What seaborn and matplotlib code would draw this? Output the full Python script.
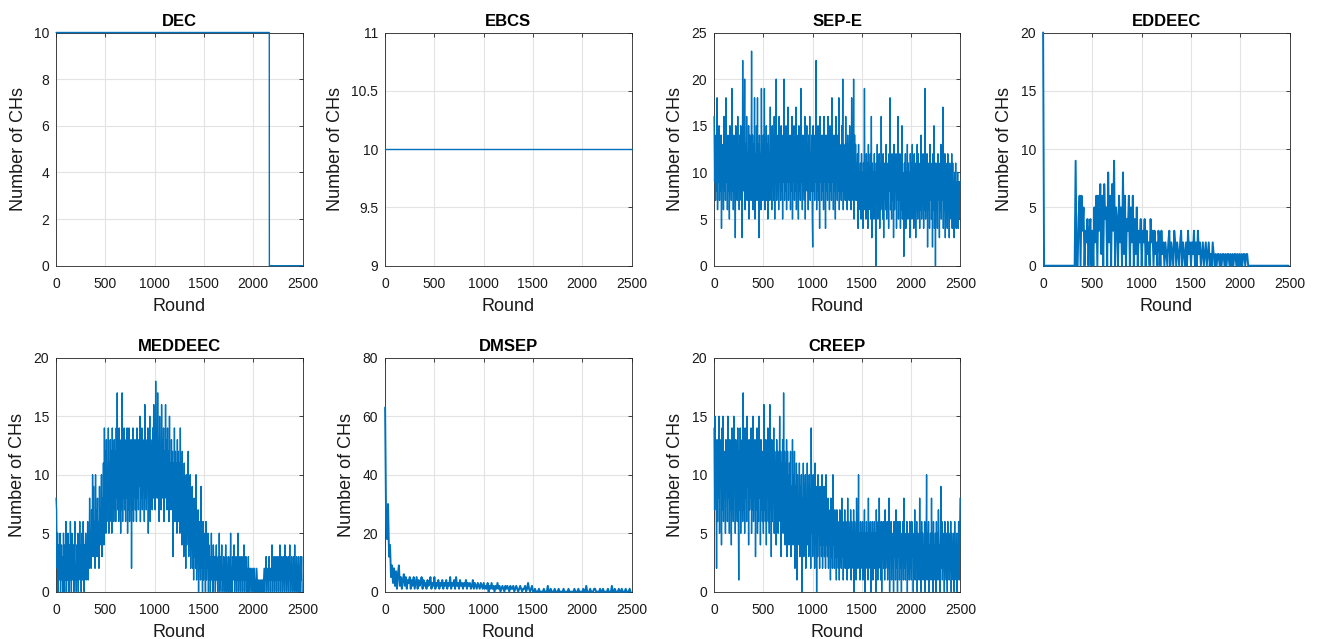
import numpy as np
import pandas as pd
import matplotlib
matplotlib.use("Agg")
import matplotlib.pyplot as plt
import seaborn as sns

# ---------------- data ----------------
titles = ["DEC", "EBCS", "SEP-E", "EDDEEC", "MEDDEEC", "DMSEP", "CREEP"]

dec_rounds = [1, 2163, 2164, 2500]
dec_values = [10, 10, 0, 0]

ebcs_rounds = [1, 2500]
ebcs_values = [10, 10]

# one sample every 5 rounds
sep_e = [
    16, 9, 14, 7, 13, 8, 18, 6, 12, 9, 15, 7, 11, 8, 14, 4, 13, 9, 12, 6, 16, 8, 13, 7, 18,
    9, 12, 6, 14, 8, 13, 5, 15, 9, 12, 7, 19, 8, 13, 6, 14, 9, 12, 3, 15, 8, 13, 7, 16, 9,
    12, 6, 14, 8, 15, 7, 13, 3, 22, 8, 14, 9, 20, 6, 13, 8, 16, 7, 12, 9, 15, 5, 14, 8, 13,
    7, 23, 9, 14, 6, 13, 8, 18, 5, 12, 9, 15, 7, 18, 8, 13, 3, 14, 9, 12, 6, 19, 8, 13, 7,
    14, 9, 19, 6, 12, 8, 15, 7, 13, 5, 14, 9, 12, 7, 17, 8, 13, 6, 15, 9, 12, 7, 16, 5, 13,
    9, 20, 7, 13, 8, 14, 6, 16, 9, 12, 7, 15, 8, 13, 5, 14, 9, 20, 7, 12, 8, 15, 6, 13, 9,
    17, 7, 12, 9, 14, 6, 13, 8, 16, 5, 12, 9, 15, 7, 13, 8, 17, 6, 14, 9, 12, 5, 15, 8, 13,
    7, 19, 9, 12, 6, 14, 8, 13, 7, 16, 5, 12, 9, 15, 8, 13, 6, 14, 9, 16, 7, 12, 8, 14, 6,
    2, 15, 8, 13, 7, 14, 9, 22, 6, 12, 8, 15, 7, 13, 4, 16, 9, 12, 7, 14, 8, 13, 6, 16, 9,
    12, 4, 14, 8, 13, 7, 16, 9, 12, 6, 15, 8, 13, 7, 18, 9, 12, 6, 14, 8, 13, 5, 16, 9, 12,
    7, 14, 8, 18, 6, 13, 9, 12, 7, 15, 8, 20, 6, 13, 9, 12, 7, 16, 8, 13, 6, 14, 9, 12, 7,
    15, 8, 13, 6, 18, 9, 12, 7, 20, 5, 14, 8, 13, 7, 11, 9, 12, 4, 13, 6, 10, 8, 11, 5, 12,
    7, 10, 4, 11, 8, 19, 6, 10, 5, 12, 7, 11, 4, 13, 6, 10, 8, 12, 5, 16, 3, 11, 7, 10, 5,
    12, 6, 10, 0, 11, 7, 13, 5, 10, 8, 12, 4, 11, 6, 16, 7, 10, 5, 12, 3, 11, 8, 10, 6, 13,
    5, 11, 7, 10, 4, 12, 8, 18, 6, 10, 5, 12, 7, 11, 3, 13, 6, 10, 8, 12, 4, 11, 7, 16, 5,
    10, 7, 12, 4, 11, 6, 15, 5, 10, 8, 1, 11, 6, 12, 4, 10, 7, 13, 5, 11, 6, 10, 3, 12, 7,
    11, 5, 13, 6, 10, 4, 12, 7, 11, 3, 10, 6, 13, 5, 12, 7, 10, 4, 11, 6, 14, 5, 10, 7, 12,
    4, 11, 6, 19, 5, 10, 7, 12, 2, 11, 6, 10, 4, 13, 7, 11, 5, 10, 2, 12, 6, 15, 4, 11, 0,
    11, 6, 10, 4, 12, 7, 11, 3, 10, 6, 13, 5, 11, 7, 17, 4, 10, 6, 12, 3, 11, 7, 10, 4, 12,
    6, 10, 3, 11, 7, 10, 5, 12, 4, 11, 6, 9, 3, 10, 7, 11, 4, 9, 6, 10, 4, 9, 5, 9, 9,
]

meddeec = [
    8, 7, 2, 5, 0, 4, 1, 3, 5, 0, 2, 4, 1, 3, 0, 5, 2, 0, 4, 1, 6, 0, 3, 1, 5,
    2, 0, 4, 1, 6, 3, 0, 5, 2, 1, 4, 0, 3, 6, 1, 2, 0, 4, 1, 5, 0, 3, 2, 6, 1,
    4, 0, 5, 2, 1, 6, 3, 0, 4, 2, 5, 1, 3, 2, 6, 1, 4, 2, 8, 3, 5, 2, 7, 3, 10,
    4, 9, 3, 6, 2, 10, 3, 7, 4, 8, 3, 6, 2, 9, 4, 7, 5, 10, 3, 8, 5, 11, 4, 14, 6,
    12, 5, 13, 6, 10, 7, 14, 5, 11, 6, 13, 7, 12, 5, 14, 8, 11, 6, 13, 7, 12, 6, 14, 8, 17,
    7, 12, 6, 14, 8, 11, 5, 13, 7, 17, 6, 12, 8, 14, 7, 11, 6, 13, 8, 14, 5, 12, 7, 14, 6,
    11, 8, 13, 2, 12, 7, 14, 6, 11, 8, 13, 7, 12, 6, 14, 8, 11, 7, 13, 9, 15, 6, 12, 8, 14,
    7, 13, 9, 12, 6, 16, 8, 13, 7, 11, 9, 14, 5, 12, 8, 15, 6, 13, 9, 12, 7, 14, 8, 16, 9,
    13, 7, 18, 9, 12, 8, 17, 10, 13, 6, 15, 9, 12, 7, 16, 8, 13, 10, 14, 6, 12, 9, 16, 8, 13,
    7, 14, 9, 12, 6, 15, 8, 11, 7, 13, 9, 12, 3, 11, 7, 14, 6, 12, 8, 11, 5, 13, 7, 12, 6,
    11, 5, 14, 7, 10, 4, 12, 6, 9, 3, 11, 5, 8, 2, 10, 4, 9, 6, 12, 3, 8, 5, 10, 2, 7,
    4, 9, 2, 6, 1, 8, 3, 7, 2, 10, 1, 5, 3, 7, 0, 6, 2, 5, 1, 9, 2, 4, 0, 6, 1,
    5, 2, 4, 0, 6, 1, 3, 2, 5, 0, 4, 1, 3, 0, 2, 5, 1, 3, 0, 4, 2, 1, 3, 0, 2,
    4, 1, 2, 0, 3, 1, 5, 0, 2, 3, 1, 4, 0, 2, 1, 3, 0, 2, 1, 4, 0, 3, 1, 2, 0,
    3, 1, 2, 0, 5, 1, 2, 0, 3, 1, 2, 4, 0, 2, 1, 3, 0, 2, 1, 5, 0, 2, 1, 3, 0,
    2, 1, 3, 0, 2, 1, 4, 0, 2, 1, 3, 0, 2, 0, 1, 3, 0, 2, 1, 2, 0, 1, 2, 0, 1,
    2, 0, 1, 2, 0, 1, 0, 2, 1, 0, 1, 0, 1, 0, 0, 1, 0, 1, 0, 1, 0, 1, 2, 0, 2,
    1, 3, 0, 2, 1, 2, 0, 3, 1, 2, 0, 2, 1, 4, 0, 2, 1, 3, 0, 2, 1, 3, 0, 2, 1,
    3, 0, 2, 1, 4, 0, 2, 1, 3, 0, 2, 1, 3, 0, 4, 1, 2, 0, 3, 1, 2, 0, 3, 1, 4,
    0, 2, 1, 3, 0, 2, 1, 3, 0, 4, 1, 2, 0, 3, 1, 2, 0, 3, 1, 2, 0, 3, 1, 3, 0,
]

creep = [
    14, 7, 15, 9, 12, 2, 13, 6, 11, 8, 15, 5, 12, 9, 13, 4, 14, 7, 15, 6, 11, 8, 12, 5, 13,
    9, 12, 6, 15, 8, 11, 5, 13, 7, 12, 4, 14, 8, 11, 6, 15, 9, 12, 5, 13, 7, 11, 6, 14, 8,
    1, 12, 7, 14, 5, 11, 8, 13, 6, 17, 7, 12, 5, 14, 8, 11, 6, 15, 9, 12, 4, 13, 7, 11, 8,
    14, 5, 12, 7, 15, 6, 11, 8, 13, 3, 12, 7, 14, 5, 11, 6, 15, 8, 12, 4, 13, 7, 11, 6, 12,
    5, 16, 7, 11, 6, 13, 4, 12, 8, 14, 6, 11, 5, 16, 7, 12, 3, 13, 6, 11, 8, 14, 5, 12, 7,
    11, 4, 13, 7, 12, 5, 10, 8, 15, 6, 12, 3, 11, 7, 13, 5, 17, 6, 12, 4, 11, 7, 13, 3, 12,
    6, 10, 4, 11, 7, 12, 3, 9, 5, 13, 4, 10, 6, 12, 2, 9, 5, 11, 1, 10, 4, 8, 6, 11, 3,
    9, 5, 10, 0, 8, 4, 11, 3, 9, 6, 10, 2, 8, 5, 11, 4, 9, 3, 10, 6, 8, 2, 14, 5, 9,
    3, 10, 5, 8, 2, 11, 4, 9, 0, 8, 3, 10, 5, 7, 2, 9, 4, 8, 3, 10, 2, 7, 4, 9, 3,
    7, 2, 10, 4, 6, 3, 8, 2, 7, 4, 6, 1, 8, 3, 6, 2, 10, 4, 6, 2, 7, 3, 5, 1, 7,
    3, 6, 2, 5, 1, 7, 3, 5, 2, 8, 3, 6, 1, 5, 4, 7, 2, 6, 3, 5, 1, 8, 2, 6, 3,
    5, 2, 7, 1, 6, 3, 5, 2, 7, 0, 6, 3, 5, 1, 8, 2, 6, 3, 10, 2, 5, 1, 6, 3, 5,
    2, 6, 1, 5, 3, 7, 0, 5, 2, 6, 3, 5, 1, 8, 2, 5, 3, 6, 0, 5, 2, 6, 1, 5, 3,
    6, 2, 5, 0, 7, 3, 5, 1, 6, 2, 8, 3, 5, 1, 6, 0, 5, 3, 6, 2, 5, 1, 7, 2, 5,
    3, 6, 1, 5, 2, 8, 0, 5, 3, 6, 1, 5, 2, 4, 0, 6, 3, 5, 1, 7, 2, 5, 0, 6, 3,
    5, 1, 6, 2, 4, 0, 5, 3, 6, 1, 8, 2, 5, 1, 4, 3, 6, 0, 5, 2, 4, 1, 6, 2, 5,
    1, 6, 3, 5, 0, 4, 2, 7, 1, 5, 3, 6, 0, 5, 2, 4, 1, 8, 3, 5, 0, 6, 2, 5, 1,
    4, 2, 6, 0, 5, 3, 10, 1, 5, 2, 6, 0, 4, 3, 5, 1, 8, 2, 5, 0, 6, 1, 4, 2, 5,
    0, 6, 2, 5, 1, 7, 3, 4, 0, 5, 9, 2, 6, 1, 4, 3, 5, 0, 6, 2, 4, 1, 5, 0, 6,
    2, 5, 1, 4, 3, 6, 0, 5, 2, 4, 1, 5, 0, 6, 2, 4, 1, 5, 0, 3, 2, 6, 1, 4, 8,
]

# one sample every 10 rounds
eddeec = [
    20, 0, 0, 0, 0, 0, 0, 0, 0, 0, 0, 0, 0, 0, 0, 0, 0, 0, 0, 0, 0, 0, 0, 0, 0,
    0, 0, 0, 0, 0, 0, 0, 0, 9, 0, 0, 4, 6, 0, 6, 3, 5, 0, 3, 2, 4, 0, 3, 4, 0,
    3, 0, 5, 2, 6, 0, 6, 3, 7, 1, 6, 0, 7, 4, 5, 0, 8, 2, 6, 0, 7, 3, 9, 0, 5,
    4, 0, 6, 2, 5, 0, 8, 1, 6, 0, 4, 3, 6, 0, 5, 2, 6, 0, 4, 1, 5, 0, 3, 2, 4,
    0, 3, 2, 4, 0, 3, 1, 2, 0, 4, 2, 3, 0, 3, 1, 2, 0, 3, 2, 0, 3, 1, 2, 0, 2,
    1, 0, 2, 3, 0, 2, 1, 0, 3, 2, 0, 2, 1, 0, 2, 3, 0, 2, 1, 0, 2, 0, 3, 1, 2,
    0, 2, 1, 3, 0, 2, 0, 3, 1, 2, 0, 1, 2, 0, 1, 2, 0, 1, 2, 0, 1, 0, 2, 1, 0,
    1, 0, 1, 1, 0, 1, 0, 1, 1, 0, 1, 0, 1, 1, 0, 1, 0, 1, 0, 1, 1, 0, 1, 0, 1,
    0, 1, 0, 1, 1, 0, 1, 1, 0, 0, 0, 0, 0, 0, 0, 0, 0, 0, 0, 0, 0, 0, 0, 0, 0,
    0, 0, 0, 0, 0, 0, 0, 0, 0, 0, 0, 0, 0, 0, 0, 0, 0, 0, 0, 0, 0, 0, 0, 0, 0,
]

dmsep = [
    63, 25, 18, 30, 12, 16, 5, 9, 3, 8, 2, 7, 1, 6, 9, 2, 5, 1, 4, 6, 2, 5, 1, 4, 3,
    5, 1, 4, 2, 5, 1, 3, 5, 1, 4, 2, 3, 5, 1, 4, 2, 3, 1, 4, 2, 3, 5, 1, 3, 2,
    5, 1, 3, 2, 4, 1, 3, 2, 4, 1, 3, 2, 4, 1, 3, 2, 5, 1, 3, 2, 4, 1, 5, 2, 3,
    1, 4, 2, 3, 1, 3, 2, 4, 1, 3, 2, 3, 1, 2, 4, 1, 3, 2, 1, 3, 2, 1, 3, 2, 1,
    3, 1, 2, 1, 3, 0, 2, 1, 3, 1, 2, 0, 2, 1, 3, 1, 2, 0, 1, 2, 1, 0, 2, 1, 2,
    1, 0, 2, 1, 1, 2, 0, 1, 2, 1, 0, 1, 2, 1, 0, 1, 1, 2, 0, 1, 3, 1, 0, 1, 2,
    0, 0, 1, 0, 0, 0, 1, 0, 0, 0, 0, 1, 0, 0, 0, 2, 0, 0, 1, 0, 0, 0, 1, 0, 0,
    0, 1, 0, 0, 0, 0, 1, 0, 0, 0, 0, 1, 0, 0, 0, 0, 0, 1, 0, 0, 0, 1, 0, 0, 0,
    0, 1, 0, 0, 2, 0, 0, 0, 1, 0, 0, 0, 1, 1, 0, 0, 0, 0, 1, 0, 0, 1, 0, 0, 0,
    0, 1, 0, 0, 0, 2, 0, 0, 1, 0, 0, 0, 1, 0, 0, 1, 0, 0, 0, 1, 0, 0, 0, 1, 0,
]

x_ticks = [0, 500, 1000, 1500, 2000, 2500]
y_ticks = {
    "DEC": [0, 2, 4, 6, 8, 10],
    "EBCS": [9, 9.5, 10, 10.5, 11],
    "SEP-E": [0, 5, 10, 15, 20, 25],
    "EDDEEC": [0, 5, 10, 15, 20],
    "MEDDEEC": [0, 5, 10, 15, 20],
    "DMSEP": [0, 20, 40, 60, 80],
    "CREEP": [0, 5, 10, 15, 20],
}
y_tick_labels = {"EBCS": ["9", "9.5", "10", "10.5", "11"]}


def every(step, vals):
    return 1 + step * np.arange(len(vals))


series = {
    "DEC": (dec_rounds, dec_values),
    "EBCS": (ebcs_rounds, ebcs_values),
    "SEP-E": (every(5, sep_e), sep_e),
    "EDDEEC": (every(10, eddeec), eddeec),
    "MEDDEEC": (every(5, meddeec), meddeec),
    "DMSEP": (every(10, dmsep), dmsep),
    "CREEP": (every(5, creep), creep),
}
line_widths = {"EDDEEC": 1.4, "DMSEP": 1.4}

# ---------------- styling ----------------
sns.set_style("white")
plt.rcParams["font.family"] = ["Liberation Sans", "DejaVu Sans"]

LINE_COLOR = "#0072BD"
AX_COLOR = "#262626"

fig = plt.figure(figsize=(13.18, 6.39), dpi=100)
W, H = 1318, 639
col_left = [56, 385, 714, 1043]
ax_w = 246.5
rows = [(32.5, 265.7), (357.8, 591.7)]

for i, name in enumerate(titles):
    r, c = divmod(i, 4)
    top, bot = rows[r]
    ax = fig.add_axes([col_left[c] / W, 1 - bot / H, ax_w / W, (bot - top) / H])
    xs, ys = series[name]
    df = pd.DataFrame({"Round": xs, "Number of CHs": ys})
    sns.lineplot(data=df, x="Round", y="Number of CHs", ax=ax, color=LINE_COLOR,
                 linewidth=line_widths.get(name, 1.0), estimator=None, sort=False,
                 zorder=3, clip_on=False)
    yt = y_ticks[name]
    ax.set_xlim(0, 2500)
    ax.set_ylim(yt[0], yt[-1])
    ax.set_xticks(x_ticks)
    ax.set_yticks(yt)
    if name in y_tick_labels:
        ax.set_yticklabels(y_tick_labels[name])
    ax.grid(True, color="#e3e3e3", linewidth=0.8)
    ax.set_axisbelow(True)
    for s in ax.spines.values():
        s.set_visible(True)
        s.set_color(AX_COLOR)
        s.set_linewidth(0.6)
        s.set_zorder(2.5)
    ax.tick_params(axis="both", direction="in", length=3, width=0.6, color=AX_COLOR,
                   top=True, right=True, labelsize=10, labelcolor="#1a1a1a")
    ax.tick_params(axis="x", pad=8)
    ax.tick_params(axis="y", pad=5)
    ax.set_xlabel("Round", fontsize=13, labelpad=5, color="#1a1a1a")
    ax.set_ylabel("Number of CHs", fontsize=13, labelpad=5, color="#1a1a1a")
    ax.set_title(name, fontsize=12, fontweight="bold", pad=5, color="#000000")

fig.savefig("out.png", dpi=100)
